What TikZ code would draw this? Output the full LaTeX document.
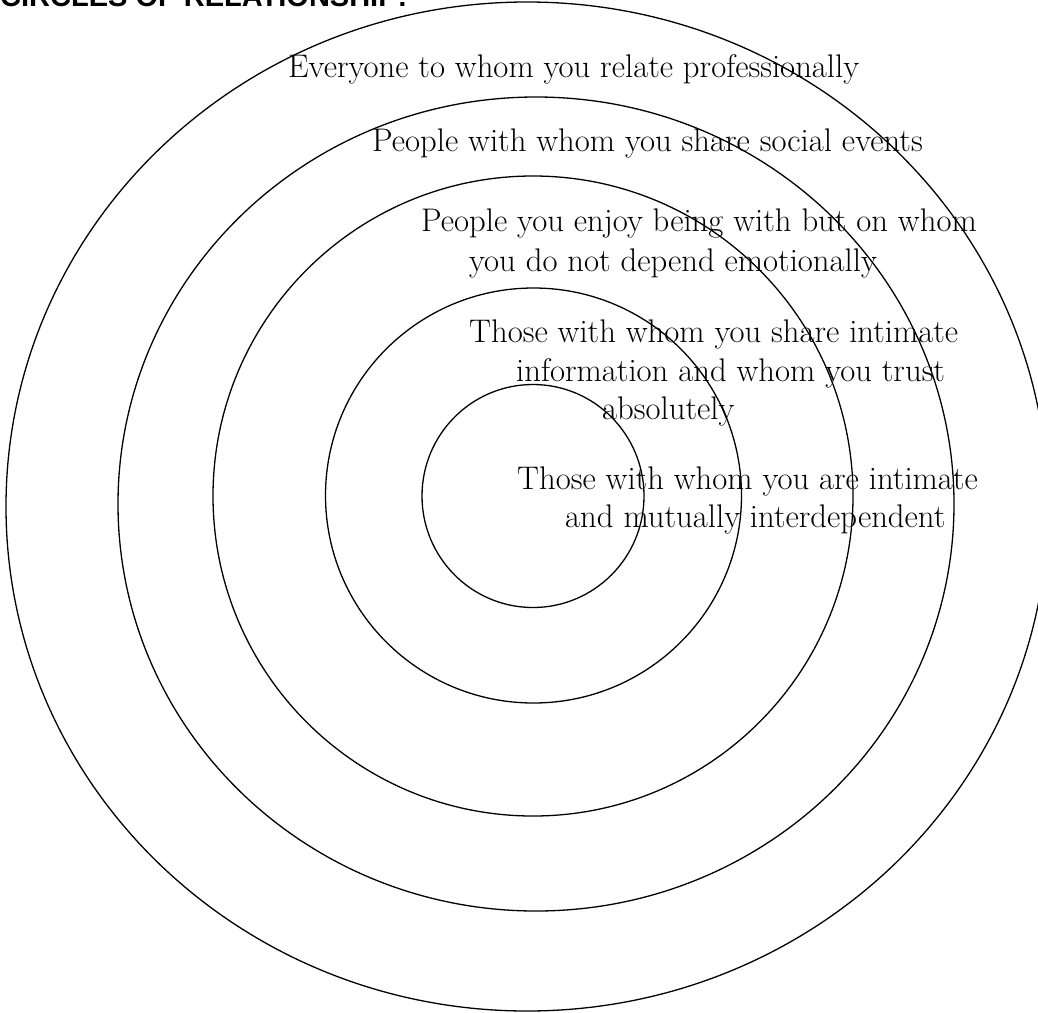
\documentclass[tikz,border=0pt]{standalone}
\usepackage{fontspec}
\newfontfamily\titlefont{Liberation Sans}
\begin{document}
\begin{tikzpicture}[x=1pt,y=-1pt,
  ring/.style={line width=1.3pt},
  lbl/.style={anchor=base west,inner sep=0pt,font=\fontsize{32.7}{38}\selectfont},
  ttl/.style={anchor=base west,inner sep=0pt,font=\titlefont\bfseries\fontsize{29}{34}\selectfont}]
\useasboundingbox (0,0) rectangle (1038,1012);
\clip (0,0) rectangle (1038,1012);
% rings
\draw[ring] (527,506.5) ellipse [x radius=521, y radius=504.5];
\draw[ring] (536,504) ellipse [x radius=418, y radius=407];
\draw[ring] (533,496) ellipse [x radius=320, y radius=320];
\draw[ring] (533.5,495.5) ellipse [x radius=208, y radius=207.5];
\draw[ring] (533,496) ellipse [x radius=111, y radius=111.5];
% title (cropped at top)
\node[ttl] (title) at (0,6) {CIRCLES OF RELATIONSHIP:};
% labels
\node[lbl] (l1) at (288,77) {Everyone to whom you relate professionally};
\node[lbl] (l2) at (372,151) {People with whom you share social events};
\node[lbl] (l3a) at (421,231) {People you enjoy being with but on whom};
\node[lbl] (l3b) at (469,271) {you do not depend emotionally};
\node[lbl] (l4a) at (469,342) {Those with whom you share intimate};
\node[lbl] (l4b) at (516,381) {information and whom you trust};
\node[lbl] (l4c) at (602,419) {absolutely};
\node[lbl] (l5a) at (517,489) {Those with whom you are intimate};
\node[lbl] (l5b) at (565,527) {and mutually interdependent};
\end{tikzpicture}
\end{document}
